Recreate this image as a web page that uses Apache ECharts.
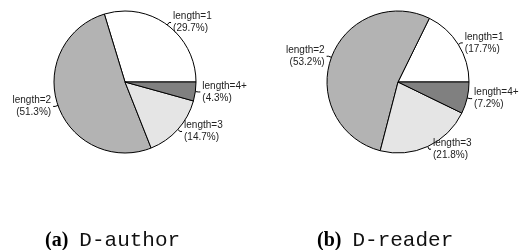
<!DOCTYPE html>
<html>
<head>
<meta charset="utf-8">
<script src="https://cdn.jsdelivr.net/npm/echarts@6/dist/echarts.min.js"></script>
<style>
  html, body { margin: 0; padding: 0; background: #fff; }
  #chart { width: 521px; height: 250px; }
</style>
</head>
<body>
<div id="chart"></div>
<script>
// share of each path length (percent)
const categories = ['length=1', 'length=2', 'length=3', 'length=4+']
const authorShares = [29.7, 51.3, 14.7, 4.3]
const readerShares = [17.7, 53.2, 21.8, 7.2]
const panelTags = ['(a)', '(b)']
const panelNames = ['D-author', 'D-reader']

const sliceColors = ['#ffffff', '#b3b3b3', '#e5e5e5', '#808080']

function pieSeries(values, center) {
  return {
    type: 'pie',
    center: center,
    radius: 71,
    startAngle: 0,
    clockwise: false,
    silent: true,
    avoidLabelOverlap: false,
    data: categories.map((name, i) => ({
      name: name,
      value: values[i],
      itemStyle: { color: sliceColors[i] }
    })),
    itemStyle: { borderColor: '#000', borderWidth: 1 },
    label: {
      show: true,
      position: 'outside',
      formatter: '{b}\n({c}%)',
      fontFamily: 'Liberation Sans, Arial, sans-serif',
      fontSize: 10,
      lineHeight: 12,
      color: '#222',
      distanceToLabelLine: 2
    },
    labelLine: {
      show: true,
      length: 3,
      length2: 2,
      lineStyle: { color: '#000', width: 1 }
    }
  }
}

function caption(i, left) {
  return {
    text: '{t|' + panelTags[i] + '}{n|' + panelNames[i] + '}',
    left: left,
    top: 230,
    padding: 0,
    textStyle: {
      rich: {
        t: { fontFamily: 'Liberation Serif, Times New Roman, serif', fontWeight: 'bold', fontSize: 20, color: '#000' },
        n: { fontFamily: 'Liberation Mono, Courier New, monospace', fontWeight: 'normal', fontSize: 21, color: '#111', padding: [0, 0, 0, 11] }
      }
    }
  }
}

const chart = echarts.init(document.getElementById('chart'))
chart.setOption({
  animation: false,
  backgroundColor: '#fff',
  title: [caption(0, 45), caption(1, 317)],
  series: [
    pieSeries(authorShares, [125, 82]),
    pieSeries(readerShares, [398, 82])
  ]
})
</script>
</body>
</html>
